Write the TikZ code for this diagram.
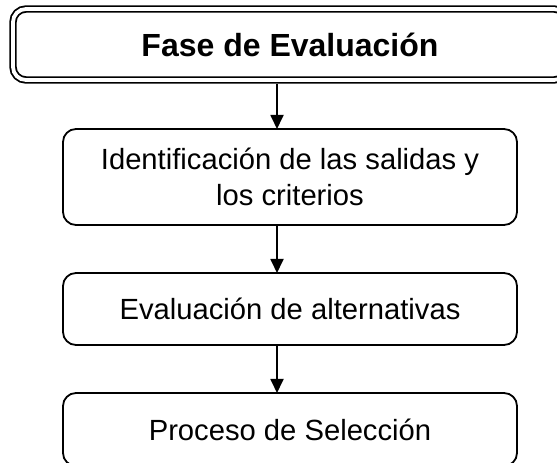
\documentclass[tikz,border=0pt]{standalone}
\usepackage{fontspec}
\setmainfont{Liberation Sans}
\usetikzlibrary{arrows.meta}
\begin{document}
\begin{tikzpicture}[x=1pt,y=1pt,
  phasebox/.style={draw, double, double distance=3.8pt, line width=1.8pt, rounded corners=13pt,
    minimum width=554pt, minimum height=71pt, inner sep=0pt, outer sep=3.7pt,
    font=\fontsize{32}{38}\selectfont\bfseries},
  stepbox/.style={draw, line width=1.8pt, rounded corners=13pt, minimum width=454pt,
    inner sep=0pt, outer sep=0pt, align=center, font=\fontsize{29.2}{36.7}\selectfont},
  arr/.style={line width=1.8pt, -{Triangle[length=14pt,width=13pt]}}]
\useasboundingbox (0,0) rectangle (557,463);
\clip (0,0) rectangle (557,463);
\node[phasebox] (fase) at (290,418.5) {Fase de Evaluación};
\node[stepbox, minimum height=96pt] (ident) at (290,286)
  {Identificación de las salidas y\\los criterios};
\node[stepbox, minimum height=72pt] (eval) at (290,154)
  {Evaluación de alternativas};
\node[stepbox, minimum height=73pt] (sel) at (290,33.5)
  {Proceso de Selección};
\coordinate (ax) at (277,0);
\draw[arr] (fase.south -| ax) -- (ident.north -| ax);
\draw[arr] (ident.south -| ax) -- (eval.north -| ax);
\draw[arr] (eval.south -| ax) -- (sel.north -| ax);
\end{tikzpicture}
\end{document}
